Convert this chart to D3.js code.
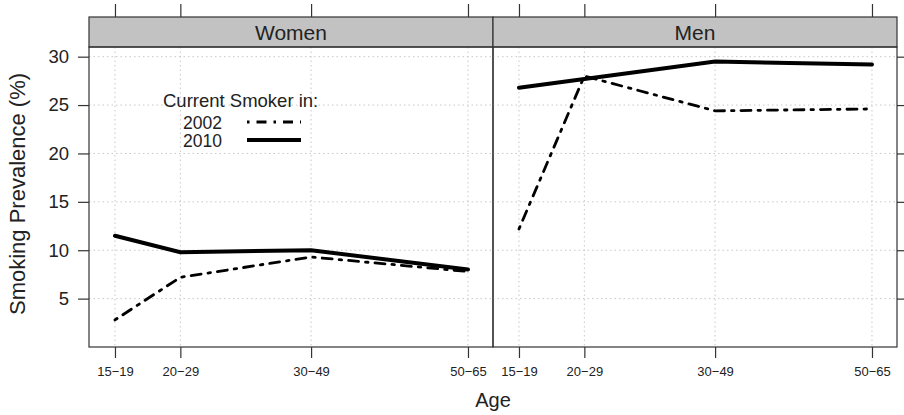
<!DOCTYPE html>
<html>
<head>
<meta charset="utf-8">
<script src="https://cdn.jsdelivr.net/npm/d3@7"></script>
<style>
  body { margin: 0; background: #fff; }
  text { font-family: "Liberation Sans", Arial, sans-serif; fill: #222; }
  .grid line { stroke: #c8c8c8; stroke-dasharray: 1.5,3; stroke-width: 1; }
</style>
</head>
<body>
<script>
// age groups, plotted at their midpoints
var ageLabels = ["15\u221219", "20\u221229", "30\u221249", "50\u221265"]
var ageMid = [17, 24.5, 39.5, 57.5]
var panels = ["Women", "Men"]
var years = ["2002", "2010"]

var women2002 = [2.8, 7.2, 9.3, 7.8]
var women2010 = [11.5, 9.8, 10.0, 8.0]
var men2002 = [12.2, 28.0, 24.4, 24.6]
var men2010 = [26.8, 27.7, 29.5, 29.2]

var yTicks = [5, 10, 15, 20, 25, 30]

var series = {
  "Women": {"2002": women2002, "2010": women2010},
  "Men": {"2002": men2002, "2010": men2010}
}

var lineStyle = {
  "2002": {"width": 2.8, "dash": "2.5,7,10,7"},
  "2010": {"width": 4, "dash": null}
}

var W = 904, H = 415
var panelW = 404
var plotLeft = 89, stripTop = 17, stripH = 30, plotBottom = 347

var svg = d3.select("body").append("svg")
  .attr("width", W).attr("height", H)

var x = d3.scaleLinear().domain([14.02, 60.37]).range([0, panelW])
var y = d3.scaleLinear().domain([0, 31]).range([plotBottom, stripTop + stripH])

panels.forEach(function(p, pi) {
  var x0 = plotLeft + pi * panelW
  var g = svg.append("g").attr("transform", "translate(" + x0 + ",0)")

  // grid
  var grid = g.append("g").attr("class", "grid")
  grid.selectAll(".h").data(yTicks).enter().append("line")
    .attr("x1", 0).attr("x2", panelW)
    .attr("y1", function(d) { return y(d) }).attr("y2", function(d) { return y(d) })
  grid.selectAll(".v").data(ageMid).enter().append("line")
    .attr("x1", function(d) { return x(d) }).attr("x2", function(d) { return x(d) })
    .attr("y1", stripTop + stripH).attr("y2", plotBottom)

  // strip
  g.append("rect")
    .attr("x", 0).attr("y", stripTop).attr("width", panelW).attr("height", stripH)
    .attr("fill", "#c2c2c2").attr("stroke", "#333").attr("stroke-width", 1.2)
  g.append("text")
    .attr("x", panelW / 2).attr("y", 39.5)
    .attr("text-anchor", "middle").attr("font-size", 21)
    .text(p)

  // lines
  var line = d3.line()
    .x(function(d, i) { return x(ageMid[i]) })
    .y(function(d) { return y(d) })
  years.forEach(function(yr) {
    g.append("path")
      .attr("d", line(series[p][yr]))
      .attr("fill", "none").attr("stroke", "#000")
      .attr("stroke-width", lineStyle[yr].width)
      .attr("stroke-dasharray", lineStyle[yr].dash)
      .attr("stroke-linecap", "round")
  })

  // frame
  g.append("rect")
    .attr("x", 0).attr("y", stripTop + stripH).attr("width", panelW)
    .attr("height", plotBottom - stripTop - stripH)
    .attr("fill", "none").attr("stroke", "#333").attr("stroke-width", 1.2)

  // bottom axis
  var xAxis = d3.axisBottom(x).tickValues(ageMid)
    .tickFormat(function(d, i) { return ageLabels[i] })
    .tickSize(11).tickPadding(9)
  var xa = g.append("g").attr("transform", "translate(0," + plotBottom + ")").call(xAxis)
  xa.select(".domain").remove()
  xa.selectAll("line").attr("stroke", "#333").attr("stroke-width", 1.2)
  xa.selectAll("text").attr("font-size", 13).attr("font-family", "Liberation Sans, Arial, sans-serif").attr("fill", "#333")

  // top ticks
  var ta = g.append("g").attr("transform", "translate(0," + stripTop + ")")
    .call(d3.axisTop(x).tickValues(ageMid).tickSize(13).tickFormat(""))
  ta.select(".domain").remove()
  ta.selectAll("line").attr("stroke", "#333").attr("stroke-width", 1.2)

  // y axis: labels on left panel, ticks only on right
  if (pi === 0) {
    var ya = g.append("g").call(d3.axisLeft(y).tickValues(yTicks).tickSize(11).tickPadding(9))
    ya.select(".domain").remove()
    ya.selectAll("line").attr("stroke", "#333").attr("stroke-width", 1.2)
    ya.selectAll("text").attr("font-size", 18.5).attr("font-family", "Liberation Sans, Arial, sans-serif").attr("fill", "#222")
  } else {
    var yr = g.append("g").attr("transform", "translate(" + panelW + ",0)")
      .call(d3.axisRight(y).tickValues(yTicks).tickSize(10).tickFormat(""))
    yr.select(".domain").remove()
    yr.selectAll("line").attr("stroke", "#333").attr("stroke-width", 1.2)
  }

  // legend in first panel
  if (pi === 0) {
    var lg = g.append("g")
    lg.append("text").attr("x", 74).attr("y", 106.5).attr("font-size", 18.5).text("Current Smoker in:")
    years.forEach(function(yr, k) {
      var ly = 122 + k * 18
      lg.append("text").attr("x", 94).attr("y", ly + 6.5).attr("font-size", 17.5).text(yr)
      lg.append("line")
        .attr("x1", 158).attr("x2", 212).attr("y1", ly).attr("y2", ly)
        .attr("stroke", "#000").attr("stroke-width", lineStyle[yr].width)
        .attr("stroke-dasharray", lineStyle[yr].dash)
    })
  }
})

// axis titles
svg.append("text")
  .attr("x", plotLeft + panelW).attr("y", 407)
  .attr("text-anchor", "middle").attr("font-size", 20)
  .text("Age")
svg.append("text")
  .attr("transform", "translate(25,194) rotate(-90)")
  .attr("text-anchor", "middle").attr("font-size", 22)
  .text("Smoking Prevalence (%)")
</script>
</body>
</html>
